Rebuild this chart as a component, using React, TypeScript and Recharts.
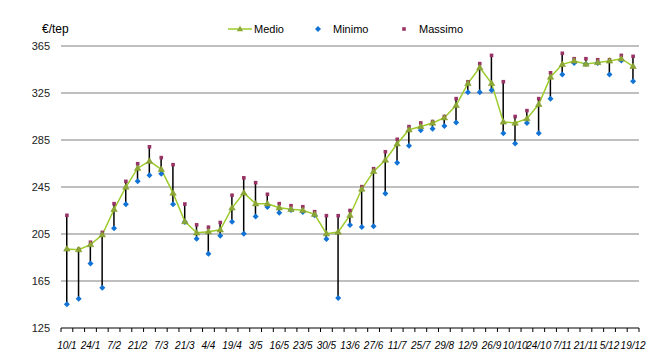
import React from 'react';
import { ComposedChart, Bar, Line, XAxis, YAxis, CartesianGrid } from 'recharts';

const categories = [
  '10/1', '17/1', '24/1', '31/1', '7/2', '14/2', '21/2', '28/2', '7/3', '14/3',
  '21/3', '28/3', '4/4', '11/4', '19/4', '26/4', '3/5', '10/5', '16/5', '19/5',
  '23/5', '26/5', '30/5', '6/6', '13/6', '20/6', '27/6', '4/7', '11/7', '18/7',
  '25/7', '8/8', '29/8', '5/9', '12/9', '19/9', '26/9', '3/10', '10/10', '17/10',
  '24/10', '31/10', '7/11', '14/11', '21/11', '28/11', '5/12', '12/12', '19/12',
];

const medio = [
  192.3, 191.7, 196, 204.4, 226, 245, 261, 267, 260, 239.8,
  215.6, 206, 207, 208.6, 227.3, 240, 230.8, 230.8, 227.4, 226,
  225.2, 221.8, 205.3, 206.7, 221, 243.3, 258.3, 268, 281.8, 293.7,
  296.5, 299.5, 304, 314.5, 333.2, 346.6, 333.2, 300.4, 299.5, 303.2,
  315.4, 338.6, 349.4, 352.3, 349.6, 351, 352.3, 354.2, 347.7,
];

const minimo = [
  145.2, 150, 179.8, 159.3, 209.8, 230.4, 250, 254.9, 256.3, 230.4,
  215.3, 201, 188.1, 203.5, 215.5, 205.2, 219.8, 228, 223, 225.5,
  223.8, 221, 200.8, 150.5, 212.6, 211, 211.5, 239.5, 265.6, 280.2,
  293.2, 294.6, 297, 300, 325.6, 325.6, 327.3, 290.7, 282, 299.5,
  290.7, 320.2, 340.8, 350.6, 349.6, 350.6, 340.8, 352.6, 334.9,
];

const massimo = [
  220.9, 192, 198, 206.4, 230.8, 249.8, 264.8, 279.2, 270, 264,
  230.5, 212.8, 210.8, 214.8, 238, 252.8, 248.7, 238.8, 230.8, 229.1,
  228.2, 224, 220.6, 220.6, 225, 245.3, 260.6, 275, 285.6, 296.4,
  299.5, 300.7, 305, 320.2, 334.6, 350, 357, 334.6, 305, 310,
  320.2, 342.2, 358.8, 354.2, 354.2, 353.3, 353.3, 357, 356.2,
];

const yTicks = [125, 165, 205, 245, 285, 325, 365];
const gridValues = [165, 205, 245, 285, 325, 365];

const data = categories.map((c, i) => ({
  cat: c,
  medio: medio[i],
  minimo: minimo[i],
  massimo: massimo[i],
  range: [minimo[i], massimo[i]],
}));

const W = 647;
const H = 348;
const MARGIN = { top: 38, right: 16, bottom: 0, left: 0 };
const Y_AXIS_W = 53;
const X_AXIS_H = 28;
const PLOT_W = W - MARGIN.left - MARGIN.right - Y_AXIS_W;
const BAND = PLOT_W / categories.length;
const FONT = '"Liberation Sans", Arial, Helvetica, sans-serif';

const GREEN_LINE = '#9DCB2C';
const GREEN_MARK = '#8EA836';
const BLUE = '#1273D6';
const PURPLE = '#993366';

const XTick = (props: any) => {
  const { x, y, payload, index } = props;
  const axisY = y - 4;
  const half = BAND / 2;
  const last = index === categories.length - 1;
  return (
    <g>
      <line x1={x - half} x2={x - half} y1={axisY} y2={axisY + 4} stroke="#000" strokeWidth={1} />
      {last && <line x1={x + half} x2={x + half} y1={axisY} y2={axisY + 4} stroke="#000" strokeWidth={1} />}
      {index % 2 === 0 && (
        <text
          x={x}
          y={axisY + 21}
          textAnchor="middle"
          fontSize={10}
          fontStyle="italic"
          fill="#000"
          fontFamily={FONT}
        >
          {payload.value}
        </text>
      )}
    </g>
  );
};

const Triangle = (props: any) => {
  const { cx, cy, index } = props;
  if (cx == null || cy == null) return <g key={`t${index}`} />;
  return (
    <path
      key={`t${index}`}
      d={`M${cx},${cy - 3.3} L${cx + 3.2},${cy + 2.2} L${cx - 3.2},${cy + 2.2} Z`}
      fill={GREEN_MARK}
      stroke="#7F9A2C"
      strokeWidth={0.6}
    />
  );
};

const Diamond = (props: any) => {
  const { cx, cy, index } = props;
  if (cx == null || cy == null) return <g key={`d${index}`} />;
  return (
    <path
      key={`d${index}`}
      d={`M${cx},${cy - 3} L${cx + 3},${cy} L${cx},${cy + 3} L${cx - 3},${cy} Z`}
      fill={BLUE}
    />
  );
};

const Square = (props: any) => {
  const { cx, cy, index } = props;
  if (cx == null || cy == null) return <g key={`s${index}`} />;
  return <rect key={`s${index}`} x={cx - 1.8} y={cy - 1.8} width={3.6} height={3.6} fill={PURPLE} />;
};

export default function App() {
  return (
    <div style={{ position: 'relative', width: W, height: H, fontFamily: FONT }}>
      <ComposedChart width={W} height={H} data={data} margin={MARGIN} barCategoryGap={0}>
        <CartesianGrid
          vertical={false}
          horizontal
          horizontalValues={gridValues}
          stroke="#BFBFBF"
          strokeWidth={2}
        />
        <XAxis
          dataKey="cat"
          interval={0}
          height={X_AXIS_H}
          tickLine={false}
          tickSize={4}
          tickMargin={0}
          axisLine={{ stroke: '#000', strokeWidth: 1 }}
          tick={<XTick />}
        />
        <YAxis
          domain={[125, 365]}
          ticks={yTicks}
          interval={0}
          width={Y_AXIS_W}
          axisLine={false}
          tickLine={false}
          tickMargin={5}
          tick={{ fontSize: 11, fill: '#222', fontFamily: FONT }}
        />
        <Bar dataKey="range" fill="#000" barSize={1.5} isAnimationActive={false} />
        <Line
          dataKey="massimo"
          stroke="none"
          dot={<Square />}
          activeDot={false}
          isAnimationActive={false}
        />
        <Line
          dataKey="minimo"
          stroke="none"
          dot={<Diamond />}
          activeDot={false}
          isAnimationActive={false}
        />
        <Line
          dataKey="medio"
          stroke={GREEN_LINE}
          strokeWidth={1.5}
          dot={<Triangle />}
          activeDot={false}
          isAnimationActive={false}
        />
      </ComposedChart>
      <svg
        width={W}
        height={40}
        style={{ position: 'absolute', left: 0, top: 0, pointerEvents: 'none' }}
      >
        <text x={34} y={25} fontSize={12} fill="#000" fontFamily={FONT}>€/tep</text>
        <line x1={220} x2={244} y1={21} y2={21} stroke={GREEN_LINE} strokeWidth={1.5} />
        <path d={`M232,17.7 L235.2,23.2 L228.8,23.2 Z`} fill={GREEN_MARK} />
        <text x={246} y={25} fontSize={11} fill="#000" fontFamily={FONT}>Medio</text>
        <path d="M310,18 L313,21 L310,24 L307,21 Z" fill={BLUE} />
        <text x={325} y={25} fontSize={11} fill="#000" fontFamily={FONT}>Minimo</text>
        <rect x={394.2} y={19.2} width={3.6} height={3.6} fill={PURPLE} />
        <text x={411} y={25} fontSize={11} fill="#000" fontFamily={FONT}>Massimo</text>
      </svg>
    </div>
  );
}
